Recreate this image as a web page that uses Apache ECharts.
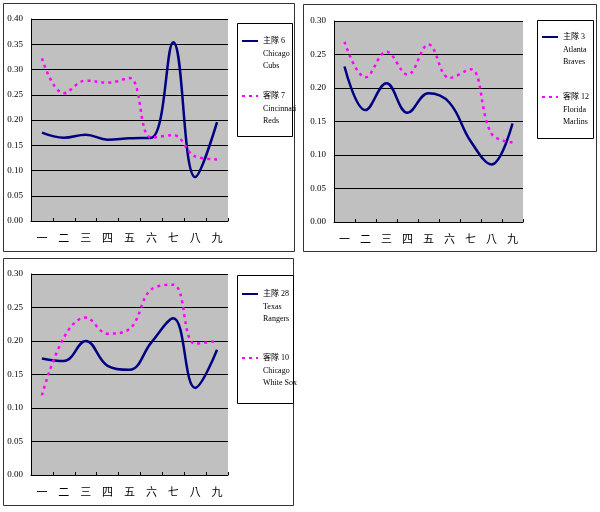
<!DOCTYPE html>
<html>
<head>
<meta charset="utf-8">
<script src="https://cdn.jsdelivr.net/npm/echarts@6/dist/echarts.min.js"></script>
<style>
html, body { margin: 0; padding: 0; background: #fff; }
#main { width: 600px; height: 512px; }
</style>
</head>
<body>
<div id="main"></div>
<script>
// 局數
var categories = ['一', '二', '三', '四', '五', '六', '七', '八', '九'];

// chart 1: Cubs vs Reds
var cubs = [0.175, 0.165, 0.171, 0.161, 0.164, 0.165, 0.354, 0.087, 0.196];
var reds = [0.322, 0.253, 0.278, 0.274, 0.283, 0.165, 0.170, 0.128, 0.122];
// chart 2: Braves vs Marlins
var braves = [0.232, 0.167, 0.207, 0.163, 0.192, 0.178, 0.121, 0.086, 0.147];
var marlins = [0.269, 0.216, 0.254, 0.220, 0.265, 0.215, 0.228, 0.132, 0.119];
// chart 3: Rangers vs White Sox
var rangers = [0.174, 0.170, 0.200, 0.163, 0.157, 0.198, 0.234, 0.130, 0.187];
var whiteSox = [0.119, 0.205, 0.235, 0.211, 0.218, 0.277, 0.284, 0.196, 0.200];

var homeNames = ['主隊 6\nChicago\nCubs', '主隊 3\nAtlanta\nBraves', '主隊 28\nTexas\nRangers'];
var awayNames = ['客隊 7\nCincinnati\nReds', '客隊 12\nFlorida\nMarlins', '客隊 10\nChicago\nWhite Sox'];
var yMax = [0.40, 0.30, 0.30];

var homeData = [cubs, braves, rangers];
var awayData = [reds, marlins, whiteSox];

// layout of the three panels
var grids = [
    { left: 31, top: 19, width: 197, height: 202 },
    { left: 334, top: 21, width: 189, height: 201 },
    { left: 31, top: 274, width: 197, height: 201 }
];
var frames = [
    { x: 3, y: 3, w: 291, h: 248 },
    { x: 303, y: 4, w: 293, h: 247 },
    { x: 3, y: 258, w: 290, h: 247 }
];
var legendBoxes = [
    { x: 237, y: 23, w: 55, h: 113 },
    { x: 537, y: 20, w: 56, h: 118 },
    { x: 237, y: 275, w: 56, h: 128 }
];
// y of the first / second legend line sample
var legendIcons = [[41, 96], [37, 97], [294, 358]];
var legendLeft = [241, 541, 241];

var serifFont = "'Liberation Serif', 'Noto Sans CJK TC', serif";
var lineH = 12.5;

var option = {
    animation: false,
    backgroundColor: '#fff',
    grid: [],
    xAxis: [],
    yAxis: [],
    series: [],
    legend: [],
    graphic: []
};

for (var i = 0; i < 3; i++) {
    var f = frames[i];
    var lb = legendBoxes[i];
    option.graphic.push({
        type: 'rect', silent: true, z: -10,
        shape: { x: f.x + 0.5, y: f.y + 0.5, width: f.w, height: f.h },
        style: { fill: '#fff', stroke: '#333', lineWidth: 1 }
    });
    option.graphic.push({
        type: 'rect', silent: true, z: -9,
        shape: { x: lb.x + 0.5, y: lb.y + 0.5, width: lb.w, height: lb.h },
        style: { fill: '#fff', stroke: '#000', lineWidth: 1 }
    });

    option.grid.push({
        left: grids[i].left, top: grids[i].top,
        width: grids[i].width, height: grids[i].height,
        show: true, backgroundColor: '#c0c0c0', borderWidth: 0,
        containLabel: false
    });
    option.xAxis.push({
        type: 'category', gridIndex: i, data: categories, boundaryGap: true,
        axisLine: { lineStyle: { color: '#000', width: 1 } },
        axisTick: { show: true, inside: true, length: 3, interval: 0, lineStyle: { color: '#000' } },
        axisLabel: { color: '#000', fontSize: 11, margin: 11, fontFamily: "'Noto Sans CJK TC', sans-serif", interval: 0 },
        splitLine: { show: false }
    });
    option.yAxis.push({
        type: 'value', gridIndex: i, min: 0, max: yMax[i], interval: 0.05,
        axisLine: { show: true, lineStyle: { color: '#000', width: 1 } },
        axisTick: { show: false },
        axisLabel: {
            color: '#000', fontSize: 9, margin: 8, fontFamily: serifFont,
            formatter: function (v) { return v.toFixed(2); }
        },
        splitLine: { show: true, lineStyle: { color: '#000', width: 1 } }
    });

    option.series.push({
        name: homeNames[i], type: 'line', xAxisIndex: i, yAxisIndex: i,
        data: homeData[i], smooth: 0.4, symbol: 'none',
        lineStyle: { color: '#000080', width: 2.5 },
        itemStyle: { color: '#000080' }
    });
    option.series.push({
        name: awayNames[i], type: 'line', xAxisIndex: i, yAxisIndex: i,
        data: awayData[i], smooth: 0.4, symbol: 'none',
        lineStyle: { color: '#ff00ff', width: 2.5, type: [3, 4] },
        itemStyle: { color: '#ff00ff' }
    });

    // two blank lines in front keep the first text line beside the sample line
    var boxHalf = 5 * lineH / 2;
    option.legend.push({
        data: [homeNames[i], awayNames[i]],
        orient: 'vertical',
        left: legendLeft[i],
        top: legendIcons[i][0] - boxHalf,
        padding: 0,
        itemWidth: 16,
        itemHeight: 6,
        itemGap: (legendIcons[i][1] - legendIcons[i][0]) - 2 * boxHalf,
        selectedMode: false,
        itemStyle: { color: 'rgba(0,0,0,0)', borderColor: 'rgba(0,0,0,0)', borderWidth: 0 },
        formatter: function (name) { return '\n\n' + name; },
        textStyle: {
            color: '#000', fontSize: 8, lineHeight: lineH,
            fontFamily: serifFont
        }
    });
}

var chart = echarts.init(document.getElementById('main'));
chart.setOption(option);
</script>
</body>
</html>
